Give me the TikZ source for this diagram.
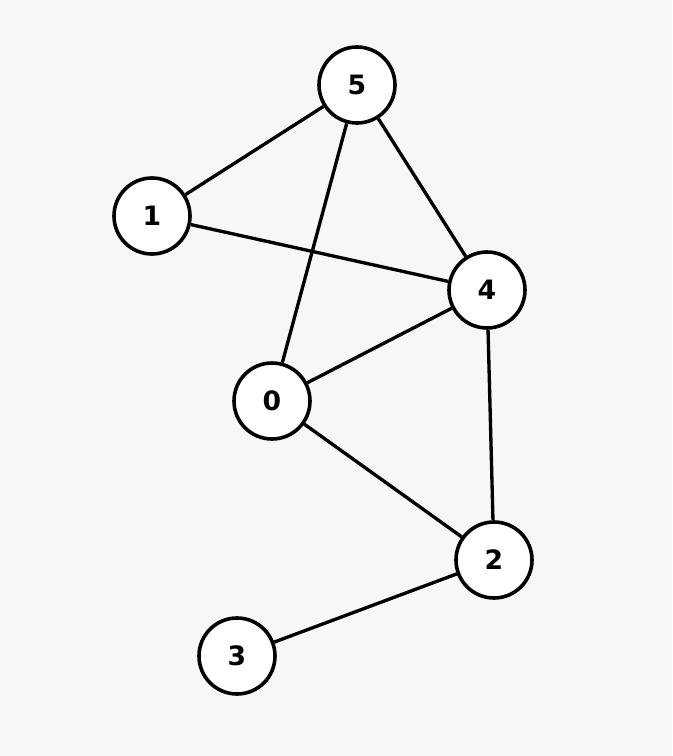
\documentclass[tikz,border=0pt]{standalone}
\usepackage{fontspec}
\newfontfamily\nodefont{DejaVu Sans}
\usepackage{tikz}
\usetikzlibrary{positioning}
\definecolor{bggray}{HTML}{F7F7F7}

\begin{document}
\begin{tikzpicture}[x=0.75pt,y=-0.75pt,
  vertex/.style={circle,draw=black,fill=white,line width=2.7pt,
    minimum size=57pt,inner sep=0pt,font=\nodefont\bfseries\fontsize{20}{20}\selectfont},
  edge/.style={line width=2.5pt}]
  \fill[bggray] (0,0) rectangle (672,756);
  \useasboundingbox (0,0) rectangle (672,756);
  % vertices
  \node[vertex] (n5) at (357,85) {5};
  \node[vertex] (n1) at (152,216) {1};
  \node[vertex] (n4) at (487,290) {4};
  \node[vertex] (n0) at (272,401) {0};
  \node[vertex] (n2) at (494,560) {2};
  \node[vertex] (n3) at (237,656) {3};
  % edges
  \draw[edge] (n5) -- (n1);
  \draw[edge] (n5) -- (n0);
  \draw[edge] (n5) -- (n4);
  \draw[edge] (n1) -- (n4);
  \draw[edge] (n4) -- (n0);
  \draw[edge] (n4) -- (n2);
  \draw[edge] (n0) -- (n2);
  \draw[edge] (n2) -- (n3);
\end{tikzpicture}
\end{document}
